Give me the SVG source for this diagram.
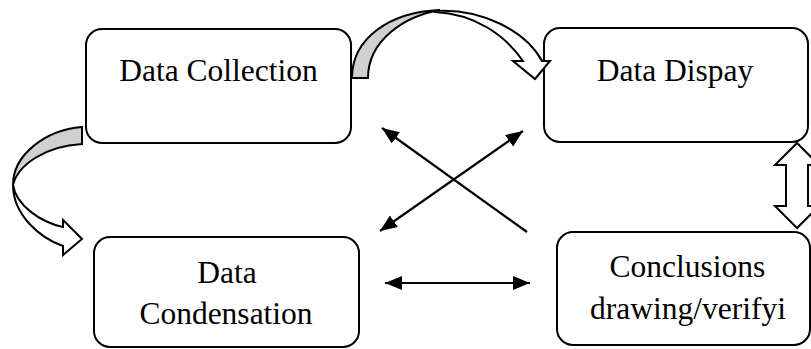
<svg xmlns="http://www.w3.org/2000/svg" width="811" height="349" viewBox="0 0 811 349">
  <style>
    .box { fill: #ffffff; stroke: #000000; stroke-width: 2; }
    .lbl { font-family: "Liberation Serif", "Times New Roman", serif; font-size: 31.5px; fill: #000000; text-anchor: middle; }
    .ln { stroke: #000000; stroke-width: 2.2; fill: none; }
    .back { fill: #d0d0d0; stroke: #000000; stroke-width: 2; stroke-linejoin: miter; }
    .front { fill: #ffffff; stroke: #000000; stroke-width: 2; stroke-linejoin: miter; }
  </style>
  <defs>
    <marker id="ah" markerUnits="userSpaceOnUse" markerWidth="18" markerHeight="16" refX="17" refY="7" orient="auto-start-reverse">
      <path d="M0,0 L17,7 L0,14 Z" fill="#000000"/>
    </marker>
  </defs>

  <g id="node-collection">
    <rect class="box" x="86" y="29" width="265" height="114" rx="16" ry="16"/>
    <text class="lbl" x="218.5" y="81">Data Collection</text>
  </g>
  <g id="node-display">
    <rect class="box" x="544" y="28" width="264" height="114" rx="16" ry="16"/>
    <text class="lbl" x="675" y="81">Data Dispay</text>
  </g>
  <g id="node-condensation">
    <rect class="box" x="94" y="237" width="265" height="110" rx="16" ry="16"/>
    <text class="lbl" x="227" y="283">Data</text>
    <text class="lbl" x="226" y="324">Condensation</text>
  </g>
  <g id="node-conclusions">
    <rect class="box" x="557" y="232" width="253" height="113" rx="16" ry="16"/>
    <text class="lbl" x="687.5" y="277">Conclusions</text>
    <text class="lbl" x="688" y="319">drawing/verifyi</text>
  </g>

  <g id="connectors">
    <!-- curved block arrow: collection -> display -->
    <path class="back" d="M352,78 C352,38 390,12 440,10 C405,16 368,40 368,78 Z"/>
    <path class="front" d="M435,11 C480,8 525,30 542,61 L550,61 L535,79 L513,61 L523,61 C505,35 475,14 435,12 Z"/>
    <!-- curved block arrow: collection -> condensation -->
    <path class="back" d="M82,127 C45,130 13,155 13,185 C18,165 45,146 82,144 Z"/>
    <path class="front" d="M13,185 C13,215 40,238 63,246 L63,255 L82,239 L63,220 L63,227 C40,222 16,205 13,185 Z"/>
    <!-- double block arrow: display <-> conclusions -->
    <path class="front" d="M797,143 L819,165 L808,165 L808,206 L819,206 L797,228 L775,206 L786,206 L786,165 L775,165 Z"/>
    <!-- crossing arrows -->
    <line class="ln" x1="527" y1="232" x2="382" y2="128" marker-end="url(#ah)"/>
    <line class="ln" x1="380" y1="231" x2="523" y2="131" marker-start="url(#ah)" marker-end="url(#ah)"/>
    <!-- horizontal double arrow -->
    <line class="ln" x1="385" y1="283" x2="530" y2="283" marker-start="url(#ah)" marker-end="url(#ah)"/>
  </g>
</svg>
